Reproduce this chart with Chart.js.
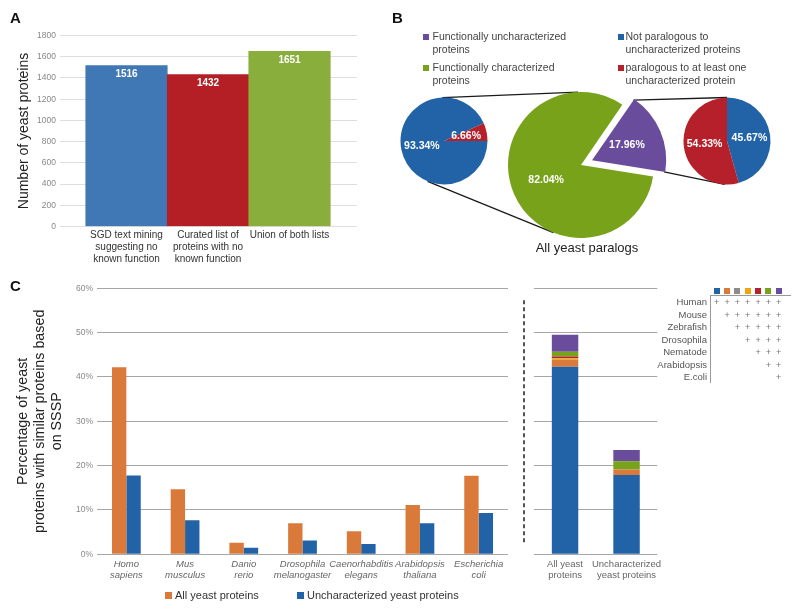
<!DOCTYPE html>
<html>
<head>
<meta charset="utf-8">
<script src="https://cdn.jsdelivr.net/npm/chart.js@4"></script>
<style>
body { margin: 0; background: #fff; font-family: "Liberation Sans", Arial, sans-serif; }
#page { position: relative; width: 800px; height: 611px; overflow: hidden; }
#page canvas { position: absolute; }
.t { position: absolute; white-space: nowrap; }
.letter { font-weight: bold; font-size: 15px; line-height: 15px; color: #111; }
.lg { font-size: 10.5px; line-height: 12.6px; color: #444; }
.sq { position: absolute; }
</style>
</head>
<body>
<div id="page">
  <canvas id="links" width="800" height="611" style="left:0;top:0"></canvas>
  <div class="t letter" style="left:10px;top:10px">A</div>
  <div class="t letter" style="left:392px;top:10px">B</div>
  <div class="t letter" style="left:10px;top:278px">C</div>
  <canvas id="chartA" width="390" height="270" style="left:0;top:0"></canvas>
  <canvas id="pieL" width="100" height="100" style="left:394px;top:91px"></canvas>
  <canvas id="pieBig" width="180" height="180" style="left:491px;top:75px"></canvas>
  <canvas id="pieR" width="100" height="100" style="left:677px;top:91px"></canvas>
  <div class="t" style="left:587px;top:240px;font-size:13px;line-height:16px;color:#222;transform:translateX(-50%)">All yeast paralogs</div>
  <canvas id="chartC" width="515" height="320" style="left:0;top:270px"></canvas>
  <canvas id="chartC2" width="145" height="320" style="left:520px;top:270px"></canvas>
</div>
<script>
// panel A
const aLabels = [['SGD text mining', 'suggesting no', 'known function'],
                 ['Curated list of', 'proteins with no', 'known function'],
                 ['Union of both lists']];
const aValues = [1516, 1432, 1651];
const aColors = ['#3f78b5', '#b31f24', '#8aae3b'];

// panel B
const paralogLabels = [['Functionally uncharacterized', 'proteins'], ['Functionally characterized', 'proteins']];
const paralogValues = [17.96, 82.04];
const paralogColors = ['#6a4c9c', '#78a21a'];
const subLabels = [['Not paralogous to', 'uncharacterized proteins'], ['paralogous to at least one', 'uncharacterized protein']];
const subColors = ['#2163a6', '#b5202a'];
const characterizedSplit = [93.34, 6.66];
const uncharacterizedSplit = [45.67, 54.33];

// panel C
const species = [['Homo', 'sapiens'], ['Mus', 'musculus'], ['Danio', 'rerio'], ['Drosophila', 'melanogaster'],
                 ['Caenorhabditis', 'elegans'], ['Arabidopsis', 'thaliana'], ['Escherichia', 'coli']];
const allYeast = [42.2, 14.7, 2.6, 7.0, 5.2, 11.1, 17.7];
const uncharYeast = [17.8, 7.7, 1.5, 3.1, 2.3, 7.0, 9.3];
const seriesNames = ['All yeast proteins', 'Uncharacterized yeast proteins'];
const seriesColors = ['#da7a3a', '#2163a6'];

const stackCats = [['All yeast', 'proteins'], ['Uncharacterized', 'yeast proteins']];
const groups = ['Human', 'Mouse', 'Zebrafish', 'Drosophila', 'Nematode', 'Arabidopsis', 'E.coli'];
const groupColors = ['#2163a6', '#da7a3a', '#8c8c8c', '#f0a30a', '#b5202a', '#78a21a', '#6a4c9c'];
const stackAll = [42.3, 1.5, 0.1, 0.35, 0.35, 1.1, 3.8];
const stackUnchar = [17.9, 1.2, 0, 0, 0, 1.9, 2.5];

const FONT = '"Liberation Sans", Arial, sans-serif';
Chart.defaults.font.family = FONT;
const page = document.getElementById('page');

function addText(txt, x, y, css) {
  const d = document.createElement('div');
  d.className = 't';
  d.style.cssText = `left:${x}px;top:${y}px;` + (css || '');
  d.innerHTML = txt;
  page.appendChild(d);
  return d;
}
function addBox(x, y, w, h, color) {
  const d = document.createElement('div');
  d.className = 'sq';
  d.style.cssText = `left:${x}px;top:${y}px;width:${w}px;height:${h}px;background:${color}`;
  page.appendChild(d);
}

const barValues = {
  id: 'barValues',
  afterDatasetsDraw(chart) {
    const ctx = chart.ctx;
    const meta = chart.getDatasetMeta(0);
    ctx.save();
    ctx.font = 'bold 10px ' + FONT;
    ctx.fillStyle = '#fff';
    ctx.textAlign = 'center';
    ctx.textBaseline = 'middle';
    meta.data.forEach((bar, i) => {
      ctx.fillText(aValues[i], bar.x, bar.y + 9);
    });
    ctx.restore();
  }
};

const sliceLabels = {
  id: 'sliceLabels',
  afterDatasetsDraw(chart) {
    const ctx = chart.ctx;
    const meta = chart.getDatasetMeta(0);
    const vals = chart.data.datasets[0].data;
    ctx.save();
    ctx.font = 'bold 10.5px ' + FONT;
    ctx.fillStyle = '#fff';
    ctx.textAlign = 'center';
    ctx.textBaseline = 'middle';
    meta.data.forEach((arc, i) => {
      const mid = (arc.startAngle + arc.endAngle) / 2;
      const r = (arc.options.offset || 0) / 4 + arc.outerRadius * 0.52;
      ctx.fillText(vals[i].toFixed(2) + '%', arc.x + Math.cos(mid) * r, arc.y + Math.sin(mid) * r);
    });
    ctx.restore();
  }
};

// ---------- A ----------
new Chart(document.getElementById('chartA'), {
  type: 'bar',
  data: {
    datasets: [{
      data: aValues.map((v, i) => ({x: i, y: v})),
      backgroundColor: aColors,
      barPercentage: 1,
      categoryPercentage: 1
    }]
  },
  options: {
    responsive: false,
    animation: false,
    layout: {padding: {top: 35.5, right: 33, bottom: 0, left: 0}},
    plugins: {legend: {display: false}, tooltip: {enabled: false}},
    scales: {
      x: {
        type: 'linear', min: -0.816, max: 2.828, offset: false, bounds: 'data',
        grid: {display: false}, border: {display: false},
        afterBuildTicks: s => { s.ticks = aLabels.map((_, i) => ({value: i})); },
        afterFit: s => { s.height = 43.5; },
        ticks: {autoSkip: false, maxRotation: 0, padding: -5, color: '#333',
                font: {size: 10, lineHeight: 1.2}, callback: v => aLabels[v]}
      },
      y: {
        min: 0, max: 1800,
        ticks: {stepSize: 200, color: '#888', font: {size: 8.5}, padding: 4, callback: v => String(v)},
        grid: {color: '#dedede', drawTicks: false}, border: {display: false},
        afterFit: s => { s.width = 60; },
        title: {display: true, text: 'Number of yeast proteins', color: '#222',
                font: {size: 14}, padding: {top: 15.6, bottom: 0}}
      }
    }
  },
  plugins: [barValues]
});

// ---------- B ----------
function pieOptions(rotation, radius) {
  return {
    responsive: false,
    animation: false,
    rotation: rotation,
    radius: radius,
    layout: {padding: 0},
    plugins: {legend: {display: false}, tooltip: {enabled: false}}
  };
}
const pieL = new Chart(document.getElementById('pieL'), {
  type: 'pie',
  data: {datasets: [{data: characterizedSplit, backgroundColor: subColors, borderWidth: 0}]},
  options: pieOptions(90, 43.5),
  plugins: [sliceLabels]
});
const pieBig = new Chart(document.getElementById('pieBig'), {
  type: 'pie',
  data: {datasets: [{data: paralogValues, backgroundColor: paralogColors, borderWidth: 0, offset: [48, 0]}]},
  options: pieOptions(34.5, 73),
  plugins: [sliceLabels]
});
const pieR = new Chart(document.getElementById('pieR'), {
  type: 'pie',
  data: {datasets: [{data: uncharacterizedSplit, backgroundColor: subColors, borderWidth: 0}]},
  options: pieOptions(0, 43.5),
  plugins: [sliceLabels]
});

// legend of panel B
paralogLabels.forEach((lines, i) => {
  addBox(423, 34 + i * 30.6, 6, 6, paralogColors[i]);
  addText(lines.join('<br>'), 432.5, 30.4 + i * 30.6, '').className = 't lg';
});
subLabels.forEach((lines, i) => {
  addBox(618, 34 + i * 30.6, 6, 6, subColors[i]);
  addText(lines.join('<br>'), 625.5, 30.4 + i * 30.6, '').className = 't lg';
});

// connector lines between pies
(function drawLinks() {
  const ctx = document.getElementById('links').getContext('2d');
  function circle(chart) {
    const arc = chart.getDatasetMeta(0).data[0];
    return {x: chart.canvas.offsetLeft + arc.x, y: chart.canvas.offsetTop + arc.y, r: arc.outerRadius};
  }
  const c1 = circle(pieL), c2 = circle(pieBig), c3 = circle(pieR);
  const pt = (c, a, r) => [c.x + Math.cos(a) * (r || c.r), c.y + Math.sin(a) * (r || c.r)];
  const line = (p, q) => { ctx.beginPath(); ctx.moveTo(p[0], p[1]); ctx.lineTo(q[0], q[1]); ctx.stroke(); };
  ctx.strokeStyle = '#1a1a1a';
  ctx.lineWidth = 1.3;
  // external tangents of the left pie and the big pie
  const dx = c2.x - c1.x, dy = c2.y - c1.y, d = Math.hypot(dx, dy);
  const phi = Math.atan2(dy, dx), beta = Math.acos((c1.r - c2.r) / d);
  [phi - beta, phi + beta].forEach(a => line(pt(c1, a), pt(c2, a)));
  // from the exploded slice to the right pie
  const arc = pieBig.getDatasetMeta(0).data[0];
  const shift = arc.options.offset / 4;
  const mid = (arc.startAngle + arc.endAngle) / 2;
  const ctr = {x: c2.x + Math.cos(mid) * shift, y: c2.y + Math.sin(mid) * shift, r: c2.r};
  line(pt(ctr, arc.startAngle), pt(c3, -Math.PI / 2));
  line(pt(ctr, arc.endAngle), pt(c3, Math.PI / 2 + 0.05));
})();

// ---------- C ----------
new Chart(document.getElementById('chartC'), {
  type: 'bar',
  data: {
    labels: species,
    datasets: seriesNames.map((n, i) => ({
      label: n, data: i === 0 ? allYeast : uncharYeast, backgroundColor: seriesColors[i]
    }))
  },
  options: {
    responsive: false,
    animation: false,
    datasets: {bar: {categoryPercentage: 0.49, barPercentage: 1}},
    layout: {padding: {top: 18.3, right: 7, bottom: 0, left: 0}},
    plugins: {legend: {display: false}, tooltip: {enabled: false}},
    scales: {
      x: {
        grid: {display: false}, border: {display: false},
        ticks: {color: '#666', font: {size: 9.5, style: 'italic', lineHeight: 1.15},
                padding: -3.5, maxRotation: 0, autoSkip: false},
        afterFit: s => { s.height = 35.7; }
      },
      y: {
        min: 0, max: 60,
        ticks: {stepSize: 10, callback: v => v + '%', color: '#888', font: {size: 8.5}, padding: 4},
        grid: {color: '#a6a6a6', drawTicks: false}, border: {display: false},
        afterFit: s => { s.width = 97; },
        title: {display: true, text: ['Percentage of yeast', 'proteins with similar proteins based', 'on SSSP'],
                color: '#222', font: {size: 14.3, lineHeight: 1.2}, padding: {top: 14.4, bottom: 0}}
      }
    }
  }
});

const dashedDivider = {
  id: 'dashedDivider',
  afterDraw(chart) {
    const {ctx, chartArea} = chart;
    const x = chartArea.left - 10.3;
    ctx.save();
    ctx.strokeStyle = '#555';
    ctx.lineWidth = 2;
    ctx.setLineDash([4, 3]);
    ctx.beginPath();
    ctx.moveTo(x, chartArea.top + 12);
    ctx.lineTo(x, chartArea.bottom - 9);
    ctx.stroke();
    ctx.restore();
  }
};

new Chart(document.getElementById('chartC2'), {
  type: 'bar',
  data: {
    labels: stackCats,
    datasets: groups.map((g, i) => ({
      label: g, data: [stackAll[i], stackUnchar[i]], backgroundColor: groupColors[i]
    }))
  },
  options: {
    responsive: false,
    animation: false,
    datasets: {bar: {categoryPercentage: 0.43, barPercentage: 1}},
    layout: {padding: {top: 18.3, right: 7.7, bottom: 0, left: 0}},
    plugins: {legend: {display: false}, tooltip: {enabled: false}},
    scales: {
      x: {
        stacked: true,
        grid: {display: false}, border: {display: false},
        ticks: {color: '#666', font: {size: 9.5, lineHeight: 1.15}, padding: -3.5, maxRotation: 0, autoSkip: false},
        afterFit: s => { s.height = 35.7; }
      },
      y: {
        stacked: true, min: 0, max: 60,
        ticks: {display: false, stepSize: 10},
        grid: {color: '#a6a6a6', drawTicks: false}, border: {display: false},
        afterFit: s => { s.width = 14.3; }
      }
    }
  },
  plugins: [dashedDivider]
});

// legend of panel C (left chart)
addBox(165, 591.7, 7, 7, seriesColors[0]);
addText(seriesNames[0], 175, 588, 'font-size:11px;line-height:14px;color:#333');
addBox(297, 591.7, 7, 7, seriesColors[1]);
addText(seriesNames[1], 307, 588, 'font-size:11px;line-height:14px;color:#333');

// species table of the stacked bars
const colX0 = 716.7, colDx = 10.33, rowY0 = 302, rowDy = 12.5;
groupColors.forEach((c, j) => addBox(colX0 + j * colDx - 3, 287.5, 6, 6, c));
addBox(710, 294.5, 81, 1, '#999');
addBox(710, 294.5, 1, 88, '#999');
groups.forEach((g, i) => {
  addText(g, 0, rowY0 + i * rowDy - 6, 'width:707px;text-align:right;font-size:9.5px;line-height:12px;color:#555');
  groups.forEach((_, j) => {
    if (j >= i) addText('+', colX0 + j * colDx - 5, rowY0 + i * rowDy - 6,
      'width:10px;text-align:center;font-size:9px;line-height:12px;color:#777');
  });
});
</script>
</body>
</html>
